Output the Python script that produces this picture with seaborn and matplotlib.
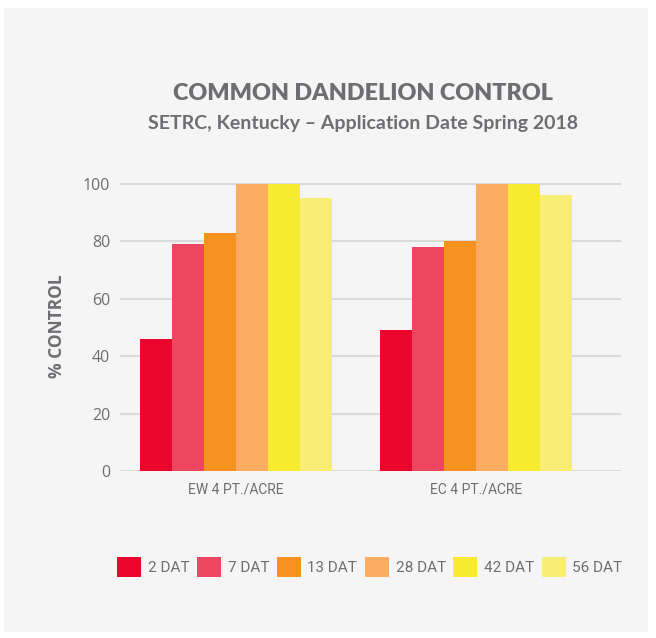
import pandas as pd
import matplotlib.pyplot as plt
import matplotlib.patches as mpatches
import seaborn as sns

# chart values
treatments = ["EW 4 PT./ACRE", "EC 4 PT./ACRE"]
timings = ["2 DAT", "7 DAT", "13 DAT", "28 DAT", "42 DAT", "56 DAT"]
ew_control = [46, 79, 83, 100, 100, 95]
ec_control = [49, 78, 80, 100, 100, 96]
bar_colors = ["#ea062c", "#ee4560", "#f6921f", "#fbad61", "#f7eb2f", "#f9ee75"]

rows = []
for treat, vals in zip(treatments, [ew_control, ec_control]):
    for t, v in zip(timings, vals):
        rows.append({"treatment": treat, "timing": t, "control": v})
df = pd.DataFrame(rows)

sns.set_theme(style="white")
plt.rcParams["font.family"] = ["Roboto", "DejaVu Sans"]

grey_txt = "#6d6e71"
bg = "#f5f5f5"

fig = plt.figure(figsize=(6.56, 6.38), dpi=100, facecolor="white")
# light grey panel behind everything
fig.patches.append(mpatches.Rectangle((4 / 656, 1 - 632 / 638), 644 / 656, 624 / 638,
                                      transform=fig.transFigure, facecolor=bg,
                                      edgecolor="none", zorder=-10))

ax = fig.add_axes([120 / 656, 1 - 471 / 638, 501 / 656, (471 - 181.1) / 638])
ax.set_facecolor("none")
ax.set_zorder(5)

sns.barplot(data=df, x="treatment", y="control", hue="timing", order=treatments,
            hue_order=timings, palette=bar_colors, width=0.8, saturation=1,
            edgecolor="none", linewidth=0, ax=ax, legend=False, zorder=3)

ax.set_xlim(-0.483, 1.604)
ax.set_ylim(0, 101)
ax.set_yticks([0, 20, 40, 60, 80, 100])
ax.yaxis.grid(True, color="#d9d9d9", linewidth=1.5, zorder=0)
ax.set_axisbelow(True)
for s in ax.spines.values():
    s.set_visible(False)

ax.tick_params(axis="y", length=0, pad=7, labelsize=11.5, labelcolor=grey_txt)
ax.tick_params(axis="x", length=0, pad=8, labelsize=10, labelcolor=grey_txt)
for lab in ax.get_yticklabels():
    lab.set_family(["Open Sans", "DejaVu Sans"])

ax.set_xlabel("")
ax.set_ylabel("% CONTROL", fontsize=12.5, fontweight="bold", color=grey_txt,
              family=["Open Sans", "DejaVu Sans"], labelpad=12)

fig.text(363 / 656, 1 - 94 / 638, "COMMON DANDELION CONTROL", ha="center", va="center",
         fontsize=16.8, fontweight="heavy", color=grey_txt, family=["Lato", "DejaVu Sans"])
fig.text(363 / 656, 1 - 124 / 638, "SETRC, Kentucky \u2013 Application Date Spring 2018",
         ha="center", va="center", fontsize=14, fontweight="bold", color=grey_txt,
         family=["Lato", "DejaVu Sans"])

handles = [mpatches.Patch(facecolor=c, edgecolor="none", label=t)
           for c, t in zip(bar_colors, timings)]
leg = fig.legend(handles=handles, loc="center", bbox_to_anchor=(370 / 656, 1 - 567 / 638),
                 ncol=6, frameon=False, fontsize=11, handlelength=1.55, handleheight=1.55,
                 handletextpad=0.45, columnspacing=0.5, borderaxespad=0)
for t in leg.get_texts():
    t.set_color(grey_txt)

fig.savefig("out.png", dpi=100, facecolor="white")
